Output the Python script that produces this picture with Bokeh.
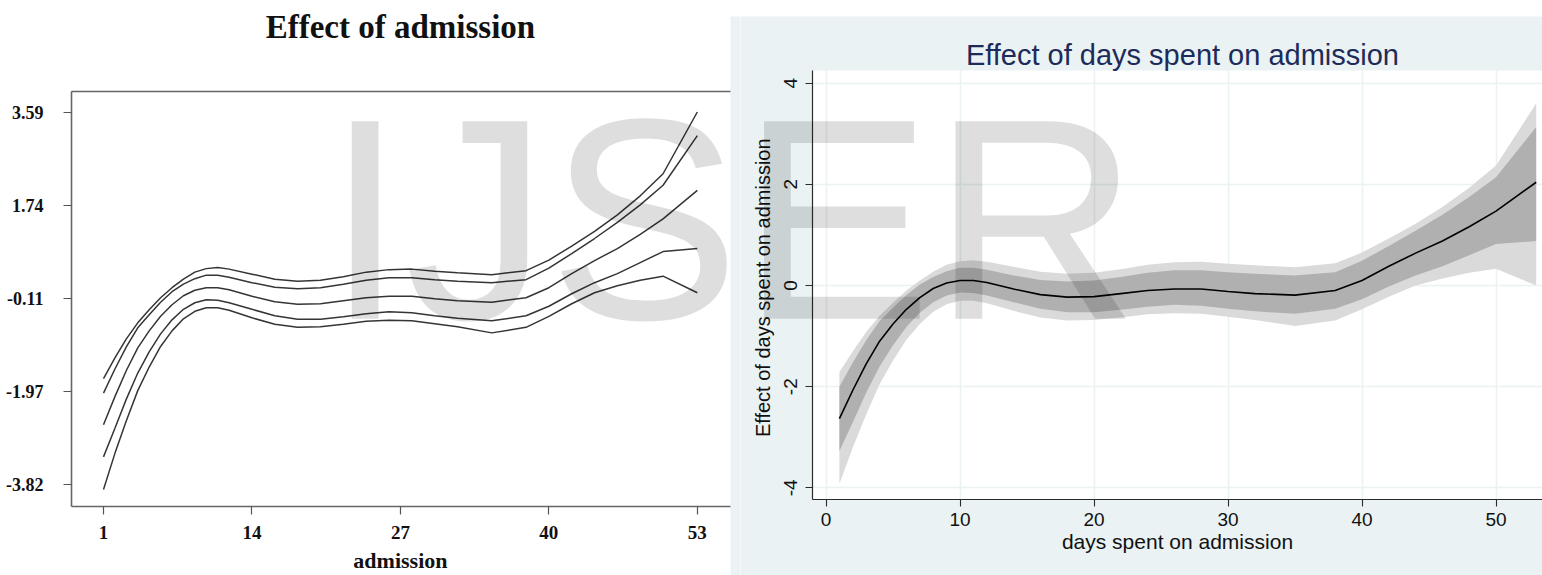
from bokeh.plotting import figure
from bokeh.models import Range1d, FixedTicker, Label, Spacer, LinearAxis, BoxAnnotation
from bokeh.layouts import row, column
from bokeh.embed import file_html
from bokeh.resources import INLINE

# ---------------- data ----------------
days = [1, 2, 3, 4, 5, 6, 7, 8, 9, 10, 11, 12, 14, 16, 18, 20, 22, 24, 26, 28,
        30, 32, 35, 38, 40, 42, 44, 46, 48, 50, 53]
effect = [-2.63, -2.07, -1.55, -1.10, -0.76, -0.47, -0.24, -0.06, 0.05, 0.10, 0.10,
          0.06, -0.07, -0.18, -0.23, -0.22, -0.16, -0.10, -0.07, -0.07, -0.12, -0.16,
          -0.19, -0.10, 0.10, 0.38, 0.64, 0.88, 1.16, 1.47, 2.04]
inner_hi = [-2.00, -1.52, -1.08, -0.70, -0.44, -0.19, 0.02, 0.17, 0.28, 0.35, 0.35,
            0.31, 0.20, 0.11, 0.08, 0.10, 0.17, 0.25, 0.30, 0.30, 0.26, 0.23,
            0.20, 0.26, 0.49, 0.78, 1.08, 1.40, 1.75, 2.14, 3.13]
inner_lo = [-3.27, -2.70, -2.12, -1.60, -1.18, -0.82, -0.54, -0.33, -0.20, -0.14, -0.15,
            -0.20, -0.33, -0.46, -0.53, -0.53, -0.48, -0.42, -0.38, -0.40, -0.46, -0.51,
            -0.56, -0.46, -0.27, -0.02, 0.20, 0.38, 0.60, 0.82, 0.88]
outer_hi = [-1.71, -1.30, -0.92, -0.60, -0.34, -0.10, 0.10, 0.27, 0.41, 0.48, 0.50,
            0.47, 0.37, 0.27, 0.23, 0.25, 0.32, 0.41, 0.46, 0.47, 0.43, 0.40,
            0.36, 0.44, 0.65, 0.93, 1.22, 1.55, 1.93, 2.37, 3.60]
outer_lo = [-3.92, -3.20, -2.55, -1.95, -1.48, -1.07, -0.76, -0.52, -0.37, -0.30, -0.30,
            -0.35, -0.50, -0.63, -0.69, -0.68, -0.63, -0.57, -0.55, -0.56, -0.62, -0.68,
            -0.80, -0.69, -0.47, -0.22, 0.00, 0.14, 0.25, 0.33, 0.00]

left_xticks = [1, 14, 27, 40, 53]
left_yticks = [3.59, 1.74, -0.11, -1.97, -3.82]
right_xticks = [0, 10, 20, 30, 40, 50]
right_yticks = [-4, -2, 0, 2, 4]

left_title = "Effect of admission"
left_xlabel = "admission"
right_title = "Effect of days spent on admission"
right_xlabel = "days spent on admission"
right_ylabel = "Effect of days spent  on admission"
watermark = "IJSER"

SERIF = "Liberation Serif"
SANS = "Liberation Sans"
BG = "#EAF2F3"

# plot-box limits (data units) of each panel
L_X0, L_X1, L_Y0, L_Y1 = -1.80, 55.91, -4.259, 4.008
R_X0, R_X1, R_Y0, R_Y1 = -1.0, 53.47, -4.229, 4.249

# ---------------- left panel ----------------
p1 = figure(width=740, height=575,
            x_range=Range1d(-8.019, 56.78), y_range=Range1d(-5.633, 5.821),
            output_backend="svg", toolbar_location=None,
            min_border_left=0, min_border_right=0, min_border_top=0, min_border_bottom=0)
p1.grid.visible = False
p1.outline_line_color = None
# strip of the neighbouring panel's background that falls inside this canvas
p1.add_layout(BoxAnnotation(left=L_X1 - 0.01, top=5.502, fill_color=BG, fill_alpha=1.0,
                            line_color=None, level="image"))
for ax in p1.axis:
    ax.axis_line_color = "#666666"
    ax.axis_line_width = 1.6
    ax.major_tick_line_color = "#555555"
    ax.major_tick_line_width = 1.2
    ax.major_tick_out = 8
    ax.major_tick_in = 0
    ax.minor_tick_line_color = None
    ax.major_label_text_font = SERIF
    ax.major_label_text_font_style = "bold"
    ax.major_label_text_color = "#111111"
p1.xaxis.major_label_text_font_size = "19px"
p1.yaxis.major_label_text_font_size = "18px"
p1.xaxis.ticker = FixedTicker(ticks=left_xticks)
p1.yaxis.ticker = FixedTicker(ticks=left_yticks)
p1.xaxis.major_label_overrides = {v: str(v) for v in left_xticks}
p1.yaxis.major_label_overrides = {v: f"{v:.2f}" for v in left_yticks}
p1.xaxis.major_label_standoff = 11
p1.yaxis.major_label_standoff = 20
p1.xaxis.fixed_location = L_Y0
p1.xaxis.bounds = (L_X0, L_X1)
p1.yaxis.fixed_location = L_X0
p1.yaxis.bounds = (L_Y0, L_Y1)
top_ax = LinearAxis(fixed_location=L_Y1, bounds=(L_X0, L_X1), ticker=FixedTicker(ticks=[]),
                    axis_line_color="#666666", axis_line_width=1.6,
                    major_tick_line_color=None, minor_tick_line_color=None)
p1.add_layout(top_ax, "above")

for ys in [outer_hi, inner_hi, effect, inner_lo, outer_lo]:
    p1.line(days, ys, line_color="#353535", line_width=1.5)

p1.add_layout(Label(x=27, y=5.290, text=left_title, text_align="center",
                    text_baseline="alphabetic", text_font=SERIF, text_font_style="bold",
                    text_font_size="33px", text_color="#111111"))
p1.add_layout(Label(x=27, y=-5.338, text=left_xlabel, text_align="center",
                    text_baseline="alphabetic", text_font=SERIF, text_font_style="bold",
                    text_font_size="22px", text_color="#111111"))
p1.add_layout(Label(x=20.42, y=1.465, text=watermark[:3], text_align="left",
                    text_baseline="alphabetic", text_font=SANS,
                    text_font_size="287px", text_color="black", text_alpha=0.13))

# ---------------- right panel ----------------
p2 = figure(width=802, height=559,
            x_range=Range1d(-6.381, 53.47), y_range=Range1d(-5.731, 5.316),
            output_backend="svg", toolbar_location=None,
            min_border_left=0, min_border_right=0, min_border_top=0, min_border_bottom=0,
            background_fill_color=BG, border_fill_color=BG)
p2.outline_line_color = None
p2.add_layout(BoxAnnotation(left=R_X0, bottom=R_Y0, top=R_Y1, fill_color="white",
                            fill_alpha=1.0, line_color=None, level="image"))
p2.grid.grid_line_color = BG
p2.grid.grid_line_width = 1.6
for ax in p2.axis:
    ax.axis_line_color = "#2b2b2b"
    ax.axis_line_width = 1.2
    ax.major_tick_line_color = "#2b2b2b"
    ax.major_tick_line_width = 1.1
    ax.major_tick_out = 7
    ax.major_tick_in = 0
    ax.minor_tick_line_color = None
    ax.major_label_text_font = SANS
    ax.major_label_text_font_size = "19px"
    ax.major_label_text_color = "#111111"
    ax.axis_label_text_font = SANS
    ax.axis_label_text_font_style = "normal"
    ax.axis_label_text_color = "#111111"
p2.xaxis.axis_label_text_font_size = "21px"
p2.yaxis.axis_label_text_font_size = "20px"
p2.xaxis.ticker = FixedTicker(ticks=right_xticks)
p2.yaxis.ticker = FixedTicker(ticks=right_yticks)
p2.xaxis.major_label_overrides = {v: str(v) for v in right_xticks}
p2.yaxis.major_label_overrides = {v: str(v) for v in right_yticks}
p2.yaxis.major_label_orientation = "vertical"
p2.xaxis.axis_label = right_xlabel
p2.yaxis.axis_label = right_ylabel
p2.xaxis.major_label_standoff = 7
p2.xaxis.axis_label_standoff = 0
p2.yaxis.major_label_standoff = 9
p2.yaxis.axis_label_standoff = 7
p2.xaxis.fixed_location = R_Y0
p2.xaxis.bounds = (R_X0, R_X1)
p2.yaxis.fixed_location = R_X0
p2.yaxis.bounds = (R_Y0, R_Y1)

p2.varea(x=days, y1=outer_lo, y2=outer_hi, fill_color="#DADADA")
p2.varea(x=days, y1=inner_lo, y2=inner_hi, fill_color="#B0B0B0")
p2.line(days, effect, line_color="black", line_width=1.6)

p2.add_layout(Label(x=26.6, y=4.559, text=right_title, text_align="center",
                    text_baseline="alphabetic", text_font=SANS,
                    text_font_size="29px", text_color="#1C2B5A"))
p2.add_layout(Label(x=-6.38, y=1.310, text=watermark[3:], text_align="left",
                    text_baseline="alphabetic", text_font=SANS,
                    text_font_size="287px", text_color="black", text_alpha=0.13))

layout = row(p1, column(Spacer(width=802, height=16), p2))

open("out.html", "w").write(file_html(layout, INLINE))
